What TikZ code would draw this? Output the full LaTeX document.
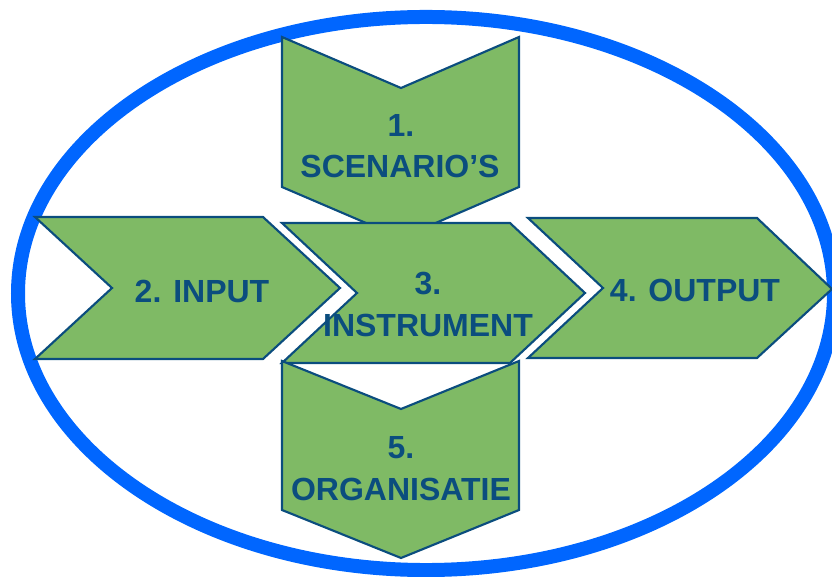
\documentclass[tikz,border=0pt]{standalone}
\usepackage{fontspec}
\setmainfont{Liberation Sans}
\definecolor{ringblue}{HTML}{0066FF}
\definecolor{shapegreen}{HTML}{7FBA65}
\definecolor{darkblue}{HTML}{0B4D7E}
\begin{document}
\begin{tikzpicture}[x=0.75pt,y=-0.75pt,
  arrowshape/.style={fill=shapegreen,draw=darkblue,line width=1.6pt,line join=miter},
  lbl/.style={anchor=base,inner sep=0pt,text=darkblue,font=\fontsize{24}{30}\selectfont\bfseries}]
\useasboundingbox (0,0) rectangle (832,577);
\draw[ringblue,line width=10.5pt] (426,293.5) ellipse [x radius=306pt, y radius=207.4pt];
% 1. scenario's
\path[arrowshape] (282,37) -- (401,88) -- (519,37) -- (519,187) -- (401,238) -- (282,187) -- cycle;
% 2. input
\path[arrowshape] (35,217) -- (263,217) -- (340,288) -- (263,359) -- (35,359) -- (112,288) -- cycle;
% 4. output
\path[arrowshape] (528,218) -- (757,218) -- (832,289) -- (757,358) -- (528,358) -- (603,288) -- cycle;
% 3. instrument
\path[arrowshape] (282,223) -- (510,223) -- (585,293) -- (510,363) -- (282,363) -- (357,293) -- cycle;
% 5. organisatie
\path[arrowshape] (282,361) -- (401,409) -- (519,361) -- (519,510) -- (401,558) -- (282,510) -- cycle;
\node[lbl] (t1a) at (401,137) {1.};
\node[lbl] (t1b) at (400,178) {SCENARIO’S};
\node[lbl] (t2) at (202,303) {2. INPUT};
\node[lbl] (t3a) at (428,295) {3.};
\node[lbl] (t3b) at (428,337) {INSTRUMENT};
\node[lbl] (t4) at (695,302) {4. OUTPUT};
\node[lbl] (t5a) at (401,458) {5.};
\node[lbl] (t5b) at (401,500) {ORGANISATIE};
\end{tikzpicture}
\end{document}
